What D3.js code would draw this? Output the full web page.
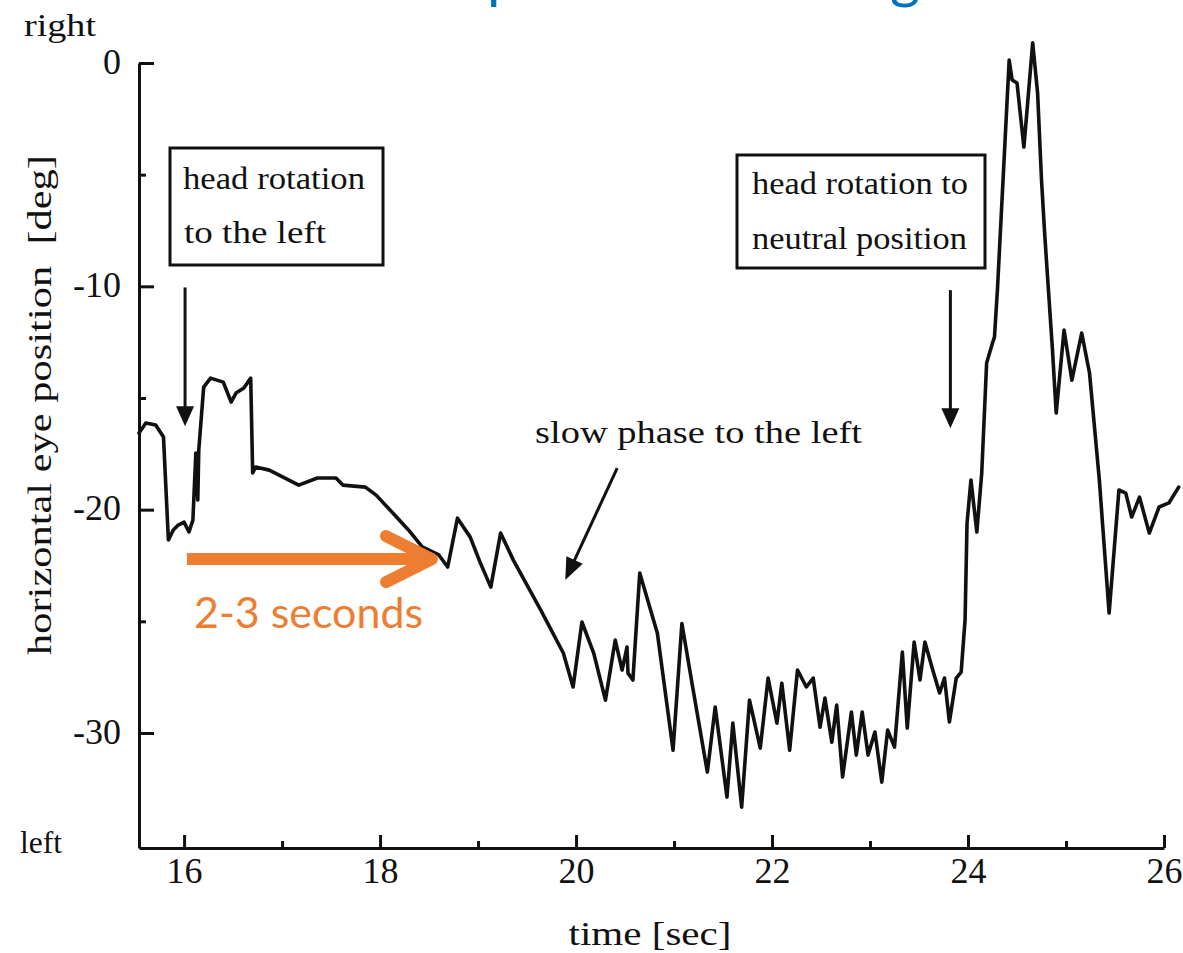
<!DOCTYPE html>
<html>
<head>
<meta charset="utf-8">
<script src="https://cdn.jsdelivr.net/npm/d3@7"></script>
<style>
  html, body { margin: 0; padding: 0; background: #fff; }
  svg { display: block; }
  .serif { font-family: "Liberation Serif", "DejaVu Serif", serif; }
</style>
</head>
<body>
<svg width="1183" height="953"></svg>
<script>
// eye position trace
const timeSec = [
  15.54, 15.61, 15.71, 15.79, 15.84, 15.89, 15.94, 16.00, 16.05, 16.09,
  16.12, 16.14, 16.15, 16.20, 16.27, 16.40, 16.48, 16.53, 16.61, 16.68,
  16.70, 16.73, 16.87, 17.01, 17.17, 17.36, 17.55, 17.62, 17.85, 17.96,
  18.13, 18.29, 18.43, 18.60, 18.69, 18.79, 18.92, 19.02, 19.13, 19.23,
  19.36, 19.64, 19.87, 19.97, 20.06, 20.18, 20.30, 20.40, 20.47, 20.52,
  20.53, 20.58, 20.65, 20.83, 20.99, 21.08, 21.19, 21.34, 21.42, 21.54,
  21.60, 21.69, 21.77, 21.88, 21.96, 22.05, 22.10, 22.18, 22.26, 22.35,
  22.42, 22.49, 22.54, 22.61, 22.66, 22.72, 22.81, 22.86, 22.92, 22.98,
  23.05, 23.12, 23.18, 23.25, 23.33, 23.38, 23.45, 23.51, 23.56, 23.64,
  23.71, 23.76, 23.81, 23.88, 23.93, 23.97, 23.99, 24.03, 24.09, 24.14,
  24.19, 24.25, 24.27, 24.30, 24.42, 24.45, 24.50, 24.57, 24.60, 24.66,
  24.71, 24.75, 24.78, 24.80, 24.86, 24.90, 24.98, 25.06, 25.16, 25.24,
  25.34, 25.44, 25.54, 25.61, 25.67, 25.75, 25.85, 25.95, 26.05, 26.15
];
const eyeDeg = [
  -16.57, -16.12, -16.21, -16.75, -21.36, -20.91, -20.69, -20.56, -21.00, -20.47,
  -17.47, -19.57, -17.33, -14.51, -14.11, -14.29, -15.18, -14.78, -14.55, -14.11,
  -18.36, -18.09, -18.23, -18.54, -18.90, -18.58, -18.58, -18.90, -18.99, -19.35,
  -20.15, -20.91, -21.67, -22.03, -22.57, -20.38, -21.23, -22.35, -23.47, -21.05,
  -22.26, -24.50, -26.42, -27.94, -25.03, -26.42, -28.53, -25.84, -27.18, -26.15,
  -27.32, -27.63, -22.84, -25.53, -30.77, -25.10, -27.94, -31.75, -28.84, -32.87,
  -29.56, -33.32, -28.53, -30.68, -27.54, -29.56, -27.77, -30.77, -27.18, -27.94,
  -27.54, -29.74, -28.44, -30.41, -28.75, -31.97, -29.06, -30.99, -29.06, -30.99,
  -29.96, -32.20, -29.87, -30.63, -26.38, -29.78, -25.93, -27.63, -25.93, -27.18,
  -28.21, -27.54, -29.51, -27.54, -27.27, -24.94, -20.60, -18.67, -21.00, -18.36,
  -13.43, -12.54, -12.27, -10.17, 0.13, -0.76, -0.90, -3.76, -2.24, 0.90,
  -1.34, -5.24, -7.48, -8.82, -12.72, -15.67, -11.96, -14.20, -12.09, -13.88,
  -18.67, -24.63, -19.12, -19.26, -20.33, -19.44, -21.05, -19.88, -19.70, -18.99
];

const xMajorTicks = [16, 18, 20, 22, 24, 26];
const xMinorTicks = [17, 19, 21, 23, 25];
const yMajorTicks = [0, -10, -20, -30];
const yMinorTicks = [-5, -15, -25];

const svg = d3.select("svg");
const ink = "#111";
const orange = "#ED7D31";
const blue = "#0070C0";
const serif = '"Liberation Serif", "DejaVu Serif", serif';

const x = d3.scaleLinear().domain([15.54, 26]).range([139, 1164]);
const y = d3.scaleLinear().domain([-35.15, 0]).range([848, 63]);

// slide title above the figure, cut off by the top edge (only descenders show)
svg.append("text").attr("x", 487).attr("y", -3)
  .style("font-family", "Lato").style("font-size", "58px").attr("fill", blue).text("p");
svg.append("text").attr("x", 890).attr("y", -3)
  .style("font-family", "Lato").style("font-size", "58px").attr("fill", blue).text("g");

function styleAxis(g) {
  g.attr("font-family", serif).attr("font-size", 36);
  g.selectAll(".domain").attr("stroke", ink).attr("stroke-width", 3);
  g.selectAll(".tick line").attr("stroke", ink).attr("stroke-width", 3);
  g.selectAll(".tick text").attr("fill", ink).style("font-family", serif).style("font-size", "36px");
}

// Y axis
svg.append("g")
  .attr("transform", `translate(${x.range()[0]},0)`)
  .call(d3.axisLeft(y).tickValues(yMajorTicks).tickSize(-15).tickSizeOuter(0)
    .tickPadding(18).tickFormat(d => String(d)))
  .call(styleAxis)
  .call(g => g.selectAll(".tick text").attr("dy", "0.28em"));

svg.append("g")
  .attr("transform", `translate(${x.range()[0]},0)`)
  .call(d3.axisLeft(y).tickValues(yMinorTicks).tickSize(-7).tickSizeOuter(0).tickFormat(() => ""))
  .call(styleAxis)
  .call(g => g.select(".domain").remove());

// X axis
svg.append("g")
  .attr("transform", `translate(0,${y.range()[0]})`)
  .call(d3.axisBottom(x).tickValues(xMajorTicks).tickSize(-13).tickSizeOuter(0)
    .tickPadding(9).tickFormat(d => String(d)))
  .call(styleAxis);

svg.append("g")
  .attr("transform", `translate(0,${y.range()[0]})`)
  .call(d3.axisBottom(x).tickValues(xMinorTicks).tickSize(-7).tickSizeOuter(0).tickFormat(() => ""))
  .call(styleAxis)
  .call(g => g.select(".domain").remove());

// axis words
const words = [
  { t: "right", x: 24, y: 36, w: 72 },
  { t: "left", x: 20, y: 853, w: 42 }
];
words.forEach(d => {
  svg.append("text").attr("class", "serif")
    .attr("x", d.x).attr("y", d.y)
    .attr("textLength", d.w).attr("lengthAdjust", "spacingAndGlyphs")
    .style("font-size", "32px").attr("fill", ink).text(d.t);
});

svg.append("text").attr("class", "serif")
  .attr("x", 650).attr("y", 945).attr("text-anchor", "middle")
  .attr("textLength", 163).attr("lengthAdjust", "spacingAndGlyphs")
  .style("font-size", "34px").attr("fill", ink).text("time [sec]");

svg.append("text").attr("class", "serif")
  .attr("transform", "translate(51,405) rotate(-90)")
  .attr("text-anchor", "middle")
  .attr("textLength", 500).attr("lengthAdjust", "spacingAndGlyphs")
  .style("font-size", "34px").style("white-space", "pre").attr("fill", ink)
  .text("horizontal eye position  [deg]");

// the trace
const trace = timeSec.map((t, i) => ({ t, v: eyeDeg[i] }));
const line = d3.line().x(d => x(d.t)).y(d => y(d.v));

svg.append("path")
  .datum(trace)
  .attr("d", line)
  .attr("fill", "none")
  .attr("stroke", ink)
  .attr("stroke-width", 3.6)
  .attr("stroke-linejoin", "round")
  .attr("stroke-linecap", "round");

// annotation boxes
const boxes = [
  { x: 170, y: 148, w: 213, h: 117, lines: [
    { t: "head rotation", x: 183, y: 189, w: 182 },
    { t: "to the left", x: 184, y: 243, w: 142 } ] },
  { x: 737, y: 155, w: 248, h: 113, lines: [
    { t: "head rotation to", x: 752, y: 194, w: 216 },
    { t: "neutral position", x: 752, y: 249, w: 215 } ] }
];
boxes.forEach(b => {
  svg.append("rect").attr("x", b.x).attr("y", b.y).attr("width", b.w).attr("height", b.h)
    .attr("fill", "#fff").attr("stroke", ink).attr("stroke-width", 3);
  b.lines.forEach(l => {
    svg.append("text").attr("class", "serif")
      .attr("x", l.x).attr("y", l.y)
      .attr("textLength", l.w).attr("lengthAdjust", "spacingAndGlyphs")
      .style("font-size", "31px").attr("fill", ink).text(l.t);
  });
});

svg.append("text").attr("class", "serif")
  .attr("x", 535).attr("y", 443)
  .attr("textLength", 327).attr("lengthAdjust", "spacingAndGlyphs")
  .style("font-size", "31px").attr("fill", ink).text("slow phase to the left");

// black arrows, given in data units
function arrow(t1, v1, t2, v2, head, half) {
  const x1 = x(t1), y1 = y(v1), x2 = x(t2), y2 = y(v2);
  const len = Math.hypot(x2 - x1, y2 - y1);
  const ux = (x2 - x1) / len, uy = (y2 - y1) / len;
  const bx = x2 - ux * head, by = y2 - uy * head;
  svg.append("line")
    .attr("x1", x1).attr("y1", y1).attr("x2", bx + ux * 2).attr("y2", by + uy * 2)
    .attr("stroke", ink).attr("stroke-width", 3);
  svg.append("path")
    .attr("d", `M${x2},${y2}L${bx - uy * half},${by + ux * half}L${bx + uy * half},${by - ux * half}Z`)
    .attr("fill", ink);
}
arrow(16.01, -10.05, 16.01, -16.26, 20, 9);
arrow(23.82, -10.17, 23.82, -16.35, 20, 9);
arrow(20.42, -18.14, 19.89, -23.15, 22, 9);

// orange "2-3 seconds" arrow
const ya = y(-22.21);
const xa0 = x(16.03), xa1 = x(18.53);
svg.append("line")
  .attr("x1", xa0).attr("y1", ya).attr("x2", xa1 - 4).attr("y2", ya)
  .attr("stroke", orange).attr("stroke-width", 12);
svg.append("path")
  .attr("d", `M${xa1 - 46},${ya - 23}L${xa1},${ya}L${xa1 - 46},${ya + 23}`)
  .attr("fill", "none").attr("stroke", orange).attr("stroke-width", 12)
  .attr("stroke-linecap", "round").attr("stroke-linejoin", "round");

svg.append("text")
  .attr("x", 194).attr("y", 628)
  .attr("textLength", 229).attr("lengthAdjust", "spacingAndGlyphs")
  .style("font-family", "Lato, 'Open Sans', sans-serif").style("font-size", "43px")
  .attr("fill", orange).text("2-3 seconds");
</script>
</body>
</html>
